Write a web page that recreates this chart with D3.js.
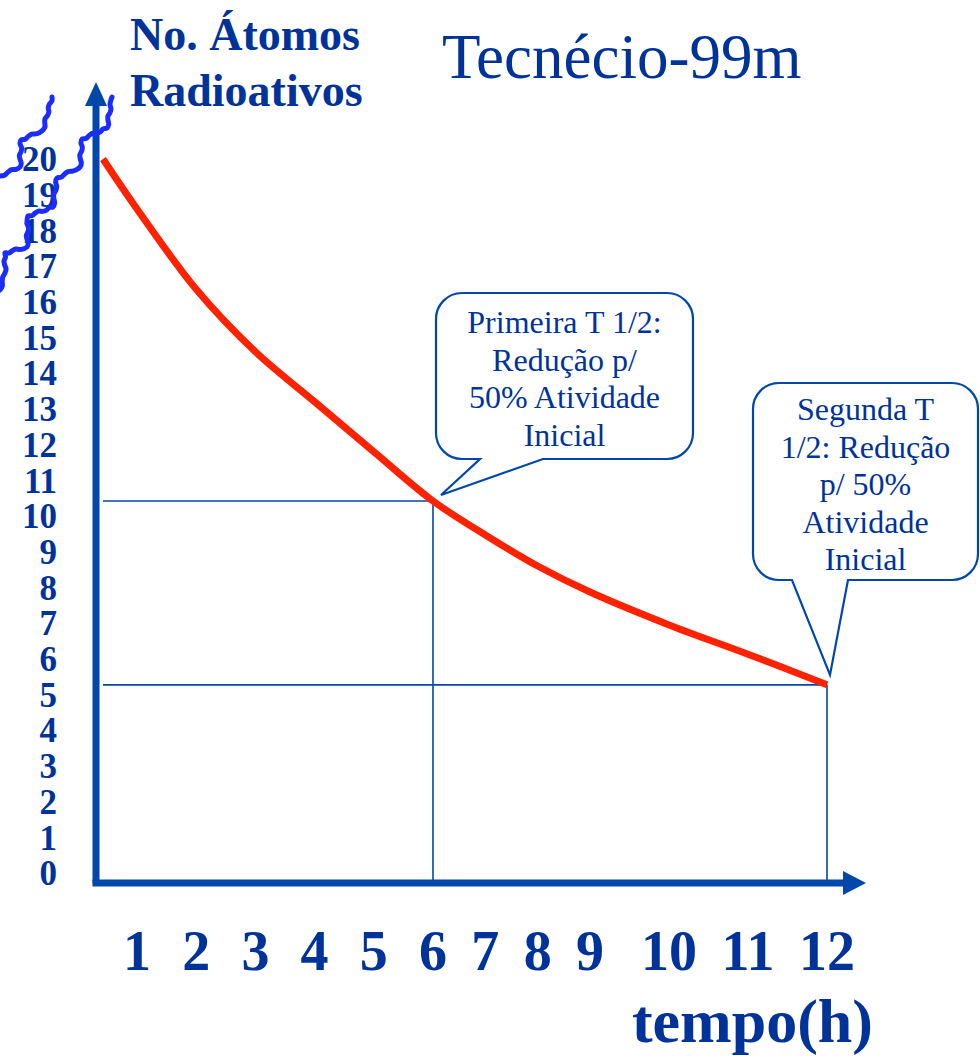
<!DOCTYPE html>
<html>
<head>
<meta charset="utf-8">
<script src="https://cdn.jsdelivr.net/npm/d3@7"></script>
<style>
  body { margin: 0; background: #fff; }
  svg text { font-family: "Liberation Serif", "Times New Roman", serif; }
</style>
</head>
<body>
<svg id="chart"></svg>
<script>
// data
const hours = [0, 1, 2, 3, 4, 5, 6, 7, 8, 9, 10, 11, 12];
const atoms = [20, 18.6, 16.35, 14.6, 13.2, 11.8, 10.42, 9.47, 8.6, 7.87, 6.95, 6.13, 5.27];
const xTicks = [1, 2, 3, 4, 5, 6, 7, 8, 9, 10, 11, 12];
const yTicks = d3.range(0, 21);
const halfLives = [
    { t: 6, lines: ['Primeira T 1/2:', 'Redução p/', '50% Atividade', 'Inicial'] },
    { t: 12, lines: ['Segunda T', '1/2: Redução', 'p/ 50%', 'Atividade', 'Inicial'] }
];

const W = 980, H = 1056;
const axisBlue = '#0047ab', textBlue = '#003399';

const svg = d3.select('#chart').attr('width', W).attr('height', H);

// hand drawn slide: the hour marks are not evenly spaced
const x = d3.scaleLinear().domain([0, 1, 6, 9, 12]).range([103, 137, 433, 590, 827]);
const y = d3.scaleLinear().domain([0, 20]).range([873, 159]);

const axisX = 96, axisY = 883;

// reference lines to the two half-life points
const refs = halfLives.map(h => ({ t: h.t, v: atoms[hours.indexOf(h.t)] }));
svg.selectAll('line.href')
    .data(refs)
    .join('line')
    .attr('class', 'href')
    .attr('x1', x(0)).attr('x2', d => x(d.t))
    .attr('y1', d => y(d.v)).attr('y2', d => y(d.v))
    .attr('stroke', axisBlue).attr('stroke-width', 1.6);
svg.selectAll('line.vref')
    .data(refs)
    .join('line')
    .attr('class', 'vref')
    .attr('x1', d => x(d.t)).attr('x2', d => x(d.t))
    .attr('y1', d => y(d.v)).attr('y2', axisY)
    .attr('stroke', axisBlue).attr('stroke-width', 1.6);

// axes with arrow heads
svg.append('line')
    .attr('x1', axisX).attr('x2', axisX).attr('y1', axisY).attr('y2', 100)
    .attr('stroke', axisBlue).attr('stroke-width', 7);
svg.append('path')
    .attr('d', `M${axisX},82 L${axisX - 11},106 L${axisX + 11},106 Z`)
    .attr('fill', axisBlue);
svg.append('line')
    .attr('x1', axisX - 3.5).attr('x2', 848).attr('y1', axisY).attr('y2', axisY)
    .attr('stroke', axisBlue).attr('stroke-width', 7);
svg.append('path')
    .attr('d', `M866,${axisY} L843,${axisY - 12} L843,${axisY + 12} Z`)
    .attr('fill', axisBlue);

// decay curve
const line = d3.line()
    .x((d, i) => x(hours[i]))
    .y(d => y(d))
    .curve(d3.curveCatmullRom);
svg.append('path')
    .datum(atoms)
    .attr('d', line)
    .attr('fill', 'none')
    .attr('stroke', '#ff2200')
    .attr('stroke-width', 7);

// y tick labels
svg.selectAll('text.ytick')
    .data(yTicks)
    .join('text')
    .attr('class', 'ytick')
    .attr('x', 57)
    .attr('y', d => y(d))
    .attr('dy', '0.35em')
    .attr('text-anchor', 'end')
    .attr('font-size', 35)
    .attr('font-weight', 'bold')
    .attr('fill', textBlue)
    .text(d => d);

// x tick labels
svg.selectAll('text.xtick')
    .data(xTicks)
    .join('text')
    .attr('class', 'xtick')
    .attr('x', d => x(d))
    .attr('y', 970)
    .attr('text-anchor', 'middle')
    .attr('font-size', 56)
    .attr('font-weight', 'bold')
    .attr('fill', textBlue)
    .text(d => d);

// axis break squiggles
const breakA = [[0, 176], [20, 167], [21, 140], [43, 130], [52, 97]];
const breakB = [[0, 290], [5, 273], [5, 253], [27, 247], [28, 216], [53, 207], [57, 178], [80, 167], [82, 139], [107, 128], [112, 97]];
function wobble(pts) {
    let out = [];
    for (let i = 0; i < pts.length - 1; i++) {
        const [x0, y0] = pts[i], [x1, y1] = pts[i + 1];
        const len = Math.hypot(x1 - x0, y1 - y0), n = Math.max(2, Math.round(len / 4));
        const nx = -(y1 - y0) / len, ny = (x1 - x0) / len;
        for (let k = 0; k < n; k++) {
            const f = k / n, w = 1.1 * Math.sin(k * 1.7);
            out.push([x0 + (x1 - x0) * f + nx * w, y0 + (y1 - y0) * f + ny * w]);
        }
    }
    out.push(pts[pts.length - 1]);
    return out;
}
svg.selectAll('path.break')
    .data([breakA, breakB])
    .join('path')
    .attr('class', 'break')
    .attr('d', d => d3.line().curve(d3.curveCatmullRom)(wobble(d)))
    .attr('fill', 'none')
    .attr('stroke', '#1a2cff')
    .attr('stroke-width', 5)
    .attr('stroke-linejoin', 'round')
    .attr('stroke-linecap', 'round');

// titles
svg.append('text')
    .attr('x', 130).attr('y', 50)
    .attr('font-size', 46).attr('font-weight', 'bold').attr('fill', textBlue)
    .text('No. Átomos');
svg.append('text')
    .attr('x', 130).attr('y', 106)
    .attr('font-size', 46).attr('font-weight', 'bold').attr('fill', textBlue)
    .text('Radioativos');
svg.append('text')
    .attr('x', 442).attr('y', 78)
    .attr('font-size', 63).attr('fill', textBlue)
    .text('Tecnécio-99m');
svg.append('text')
    .attr('x', 873).attr('y', 1042)
    .attr('text-anchor', 'end')
    .attr('font-size', 62).attr('font-weight', 'bold').attr('fill', textBlue)
    .text('tempo(h)');

// speech bubbles pointing at the half-life points
const boxes = [
    { x0: 436, y0: 293, x1: 693, y1: 459, b0: 480, b1: 543, lineTop: 333 },
    { x0: 753, y0: 383, x1: 978, y1: 580, b0: 792, b1: 848, lineTop: 420 }
];
function bubble(b, tip) {
    const r = 26;
    const p = d3.path();
    p.moveTo(b.x0 + r, b.y0);
    p.lineTo(b.x1 - r, b.y0);
    p.arcTo(b.x1, b.y0, b.x1, b.y0 + r, r);
    p.lineTo(b.x1, b.y1 - r);
    p.arcTo(b.x1, b.y1, b.x1 - r, b.y1, r);
    p.lineTo(b.b1, b.y1);
    p.lineTo(tip[0], tip[1]);
    p.lineTo(b.b0, b.y1);
    p.lineTo(b.x0 + r, b.y1);
    p.arcTo(b.x0, b.y1, b.x0, b.y1 - r, r);
    p.lineTo(b.x0, b.y0 + r);
    p.arcTo(b.x0, b.y0, b.x0 + r, b.y0, r);
    p.closePath();
    return p.toString();
}
halfLives.forEach((h, i) => {
    const b = boxes[i];
    const v = atoms[hours.indexOf(h.t)];
    const tip = [x(h.t) + (i === 0 ? 8 : 3), y(v) - (i === 0 ? 6 : 10)];
    svg.append('path')
        .attr('d', bubble(b, tip))
        .attr('fill', '#fff')
        .attr('stroke', axisBlue)
        .attr('stroke-width', 2.2);
    svg.append('g')
        .selectAll('text')
        .data(h.lines)
        .join('text')
        .attr('x', (b.x0 + b.x1) / 2)
        .attr('y', (d, k) => b.lineTop + k * 37.5)
        .attr('text-anchor', 'middle')
        .attr('font-size', 32)
        .attr('fill', textBlue)
        .text(d => d);
});
</script>
</body>
</html>
